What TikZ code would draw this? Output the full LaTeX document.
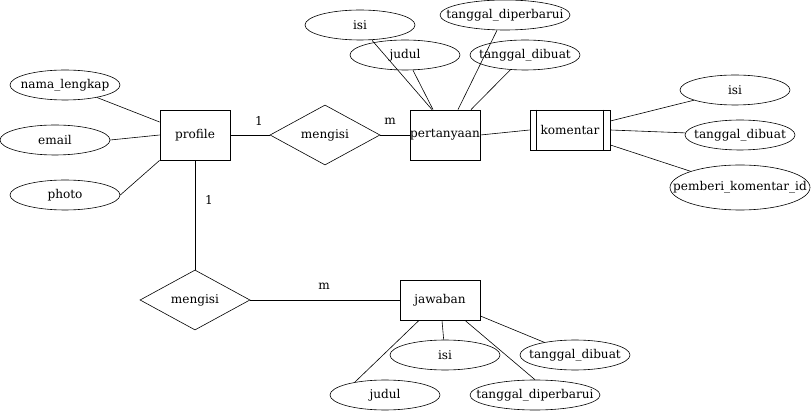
\documentclass[tikz,border=0pt]{standalone}
\usepackage{fontspec}
\setmainfont{DejaVu Serif}
\usetikzlibrary{shapes.geometric}

\begin{document}
\begin{tikzpicture}[x=1pt,y=-1pt,
  font=\fontsize{12.1}{14}\selectfont,
  entitas/.style={draw, rectangle, line width=0.8pt, minimum width=70pt, minimum height=50pt, inner sep=0pt},
  atribut/.style={draw, ellipse, line width=0.6pt, minimum width=110pt, minimum height=30pt, inner xsep=-40pt, inner ysep=-5pt},
  relasi/.style={draw, diamond, aspect=1.83, line width=0.6pt, minimum width=110pt, minimum height=60pt, inner sep=0pt},
  garis/.style={line width=0.6pt}]
% ERD profile - pertanyaan - komentar - jawaban
\useasboundingbox (0,0) rectangle (811,411);

\node[entitas] (profile) at (195,135) {profile};
\node[relasi] (mengisiA) at (325,135) {mengisi};
\node[entitas] (pertanyaan) at (445,135) {pertanyaan};
\node[entitas, minimum width=80pt, minimum height=40pt] (komentar) at (570,130) {komentar};
\draw[line width=0.8pt] ([xshift=7pt]komentar.north west) -- ([xshift=7pt]komentar.south west);
\draw[line width=0.8pt] ([xshift=-7pt]komentar.north east) -- ([xshift=-7pt]komentar.south east);
\node[relasi] (mengisiB) at (195,300) {mengisi};
\node[entitas, minimum width=80pt, minimum height=40pt] (jawaban) at (440,300) {jawaban};

% atribut profile
\node[atribut] (namaLengkap) at (65,85) {nama\_lengkap};
\node[atribut] (email) at (55,140) {email};
\node[atribut] (photo) at (65,195) {photo};

% atribut pertanyaan
\node[atribut] (isiP) at (360,25) {isi};
\node[atribut] (judulP) at (405,55) {judul};
\node[atribut, minimum width=130pt] (diperbaruiP) at (505,15) {tanggal\_diperbarui};
\node[atribut] (dibuatP) at (525,55) {tanggal\_dibuat};

% atribut komentar
\node[atribut] (isiK) at (735,90) {isi};
\node[atribut] (dibuatK) at (740,135) {tanggal\_dibuat};
\node[atribut, minimum width=140pt, minimum height=45pt] (pemberiK) at (740,187.5) {pemberi\_komentar\_id};

% atribut jawaban
\node[atribut] (isiJ) at (445,355) {isi};
\node[atribut] (dibuatJ) at (575,355) {tanggal\_dibuat};
\node[atribut] (judulJ) at (385,395) {judul};
\node[atribut, minimum width=130pt] (diperbaruiJ) at (535,395) {tanggal\_diperbarui};

% relasi
\draw[garis] (profile) -- (mengisiA);
\draw[garis] (mengisiA) -- (pertanyaan);
\draw[garis] (pertanyaan.east) -- (komentar.west);
\draw[garis] (profile) -- (mengisiB);
\draw[garis] (mengisiB) -- (jawaban);
\node (kardA) at (259,121) {1};
\node (kardB) at (390,121) {m};
\node (kardC) at (209,200) {1};
\node (kardD) at (324,286) {m};

% garis atribut
\draw[garis] (namaLengkap) -- ([yshift=13pt]profile.west);
\draw[garis] (email.east) -- (profile.west);
\draw[garis] (photo.east) -- (profile.south west);
\draw[garis] ([xshift=12pt]isiP.south) -- ([xshift=-13pt]pertanyaan.north);
\draw[garis] ([xshift=8pt]judulP.south) -- ([xshift=-12pt]pertanyaan.north);
\draw[garis] ([xshift=-8pt]diperbaruiP.south) -- ([xshift=13pt]pertanyaan.north);
\draw[garis] (dibuatP) -- ([xshift=26pt]pertanyaan.north);
\draw[garis] (isiK) -- ([yshift=9pt]komentar.east);
\draw[garis] (dibuatK) -- (komentar.east);
\draw[garis] (pemberiK) -- ([yshift=-15pt]komentar.east);
\draw[garis] (judulJ.157) -- ([xshift=-21pt]jawaban.south);
\draw[garis] (isiJ) -- ([xshift=2pt]jawaban.south);
\draw[garis] (diperbaruiJ.north) -- ([xshift=25pt]jawaban.south);
\draw[garis] (dibuatJ) -- ([yshift=-16pt]jawaban.east);
\end{tikzpicture}
\end{document}
